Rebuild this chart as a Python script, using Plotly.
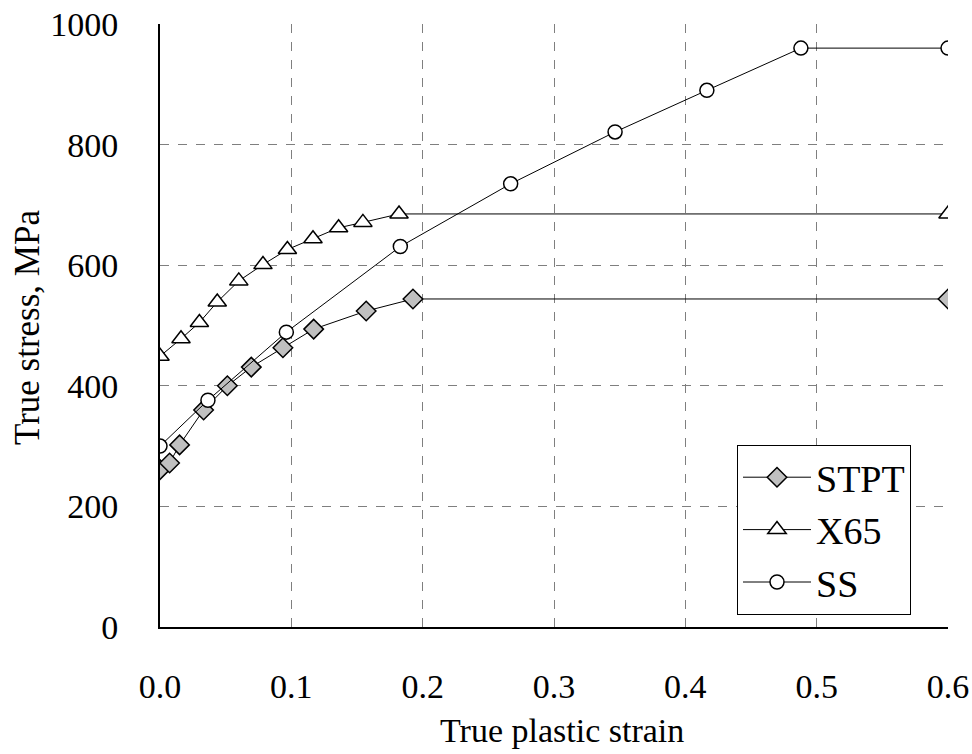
import plotly.graph_objects as go

# STPT (diamonds)
stpt_x = [0.0, 0.0073, 0.0149, 0.0332, 0.0513, 0.0695, 0.0936, 0.117, 0.157, 0.1926, 0.6]
stpt_y = [261, 272, 302, 360, 400, 431, 463, 494, 524, 544, 544]

# X65 (triangles)
x65_x = [0.0, 0.016, 0.030, 0.0436, 0.060, 0.0784, 0.097, 0.1165, 0.136, 0.1545, 0.182, 0.6]
x65_y = [449, 478, 505, 539, 574, 601, 626, 644, 662, 671, 685, 685]

# SS (circles)
ss_x = [0.0, 0.0365, 0.0962, 0.183, 0.267, 0.3465, 0.4164, 0.488, 0.6]
ss_y = [300, 376, 489, 631, 735, 821, 890, 960, 960]

x_ticks = [0.0, 0.1, 0.2, 0.3, 0.4, 0.5, 0.6]
x_tick_text = ["0.0", "0.1", "0.2", "0.3", "0.4", "0.5", "0.6"]
y_ticks = [0, 200, 400, 600, 800, 1000]

FONT = "Liberation Serif, Times New Roman, serif"
TICK = 34

fig = go.Figure()
fig.add_trace(go.Scatter(
    x=stpt_x, y=stpt_y, name="STPT", mode="lines+markers",
    line=dict(color="black", width=1),
    marker=dict(symbol="diamond", size=15, color="#c0c0c0",
                line=dict(color="black", width=1.5)),
))
fig.add_trace(go.Scatter(
    x=x65_x, y=x65_y, name="X65", mode="lines+markers",
    line=dict(color="black", width=1),
    marker=dict(symbol="triangle-up", size=16, color="white",
                line=dict(color="black", width=1.5)),
))
fig.add_trace(go.Scatter(
    x=ss_x, y=ss_y, name="SS", mode="lines+markers",
    line=dict(color="black", width=1),
    marker=dict(symbol="circle", size=14, color="white",
                line=dict(color="black", width=1.5)),
))

fig.update_layout(
    width=972, height=754,
    margin=dict(l=160, r=24, t=24, b=127, autoexpand=False),
    paper_bgcolor="white", plot_bgcolor="white",
    font=dict(family=FONT, size=TICK, color="black"),
    showlegend=True,
    legend=dict(
        x=(737 - 160) / 788, y=(627 - 445) / 603,
        xanchor="left", yanchor="top",
        bordercolor="black", borderwidth=1,
        bgcolor="white",
        font=dict(family=FONT, size=38, color="black"),
        itemwidth=68,
        tracegroupgap=0,
    ),
    xaxis=dict(
        range=[0, 0.6], tickvals=x_ticks, ticktext=x_tick_text,
        showgrid=True, gridcolor="#7f7f7f", griddash="dash", gridwidth=1,
        zeroline=False, showline=True, linecolor="black", linewidth=2,
        ticks="", ticklabelstandoff=28, automargin=False,
        tickfont=dict(family=FONT, size=TICK),
    ),
    yaxis=dict(
        range=[0, 1000], tickvals=y_ticks,
        showgrid=True, gridcolor="#7f7f7f", griddash="dash", gridwidth=1,
        zeroline=False, showline=True, linecolor="black", linewidth=2,
        ticks="", ticklabelstandoff=33, automargin=False,
        tickfont=dict(family=FONT, size=TICK),
    ),
    annotations=[
        dict(
            text="True stress, MPa", textangle=-90,
            xref="paper", yref="paper", x=(28 - 160) / 788, y=(627 - 328) / 603,
            xanchor="center", yanchor="middle", showarrow=False,
            font=dict(family=FONT, size=35, color="black"),
        ),
        dict(
            text="True plastic strain",
            xref="paper", yref="paper", x=(562 - 160) / 788, y=(627 - 730) / 603,
            xanchor="center", yanchor="middle", showarrow=False,
            font=dict(family=FONT, size=34, color="black"),
        ),
    ],
)

fig.write_html("out.html")
